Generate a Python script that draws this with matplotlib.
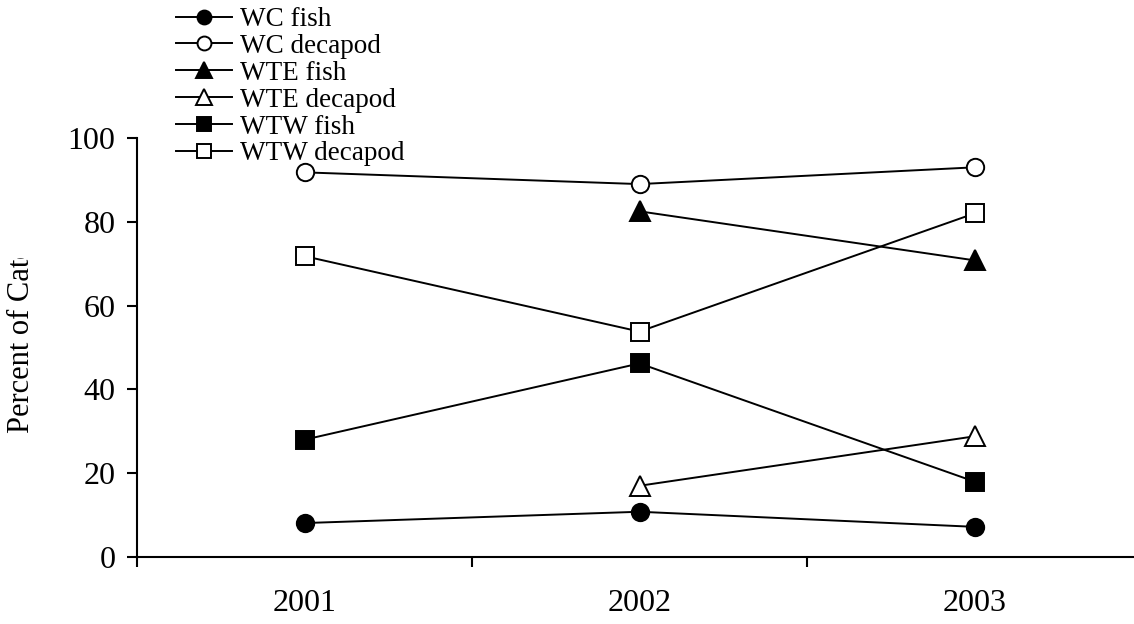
import matplotlib
matplotlib.use('Agg')
import matplotlib.pyplot as plt
from matplotlib.transforms import Bbox

plt.rcParams['font.family'] = ['Liberation Serif', 'DejaVu Serif']

years = ['2001', '2002', '2003']
x = [1, 2, 3]

wc_fish = [8.1, 10.8, 7.2]
wc_decapod = [91.8, 89.0, 93.0]
wte_fish = [None, 82.5, 70.8]
wte_decapod = [None, 17.0, 28.8]
wtw_fish = [28.0, 46.2, 18.0]
wtw_decapod = [71.8, 53.8, 82.0]

series = [
	('WC fish', wc_fish, 'o', 'black', 12.5),
	('WC decapod', wc_decapod, 'o', 'white', 12.5),
	('WTE fish', wte_fish, '^', 'black', 14.5),
	('WTE decapod', wte_decapod, '^', 'white', 14.5),
	('WTW fish', wtw_fish, 's', 'black', 12.5),
	('WTW decapod', wtw_decapod, 's', 'white', 12.5),
]


def main():
	fig = plt.figure(figsize=(11.34, 6.24), dpi=100)
	ax = fig.add_axes([137 / 1134, 67 / 624, 1 - 137 / 1134, (557 - 138) / 624])

	for name, vals, marker, face, ms in series:
		xs = [xi for xi, v in zip(x, vals) if v is not None]
		ys = [v for v in vals if v is not None]
		ax.plot(xs, ys, color='black', lw=1.4, marker=marker, ms=ms,
				mfc=face, mec='black', mew=1.4, label=name, clip_on=False)

	ax.set_ylim(0, 100)
	ax.set_xlim(0.5, 0.5 + (1134 - 137) / 335)
	ax.set_yticks([0, 20, 40, 60, 80, 100])
	ax.set_xticks([0.5, 1.5, 2.5])
	ax.set_xticklabels([])
	ax.set_xticks(x, minor=True)
	ax.set_xticklabels(years, minor=True)

	for s in ['top', 'right']:
		ax.spines[s].set_visible(False)
	for s in ['left', 'bottom']:
		ax.spines[s].set_linewidth(1.5)

	ax.tick_params(axis='y', which='major', direction='out', length=7.5, width=1.5,
				   labelsize=23, pad=8)
	ax.tick_params(axis='x', which='major', direction='out', length=7.5, width=1.5)
	ax.tick_params(axis='x', which='minor', length=0, labelsize=23, pad=23)

	lab = fig.text(22 / 1134, 1 - 433 / 624, 'Percent of Catch', rotation=90,
				   fontsize=22, ha='center', va='bottom')
	lab.set_clip_box(Bbox.from_extents(0, 0, 1134, 624 - 258))
	lab.set_clip_on(True)

	fig.legend(loc='upper left', bbox_to_anchor=(176 / 1134, 1 - 7 / 624),
			   frameon=False, fontsize=19.5, handlelength=2.05, handletextpad=0.3,
			   labelspacing=0.07, borderaxespad=0, borderpad=0, markerscale=0.8)

	fig.savefig('out.png', dpi=100, facecolor='white')


if __name__ == '__main__':
	main()
